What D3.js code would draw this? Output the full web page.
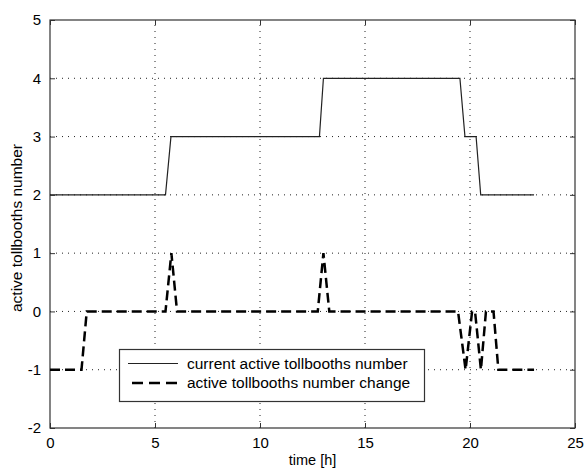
<!DOCTYPE html>
<html>
<head>
    <meta charset="utf-8">
    <title>Active tollbooths</title>
    <script src="https://d3js.org/d3.v7.min.js"></script>
    <style>
        body { margin: 0; background: #fff; }
        svg text { font-family: "Liberation Sans", Arial, sans-serif; fill: #000; }
    </style>
</head>
<body>
    <svg id="chart"></svg>

    <script>
        // current active tollbooths number: [time h, count]
        const currentTime  = [0, 5.5, 5.76, 12.83, 13.02, 19.52, 19.76, 20.29, 20.51, 23.05];
        const currentValue = [2, 2,   3,    3,     4,     4,     3,     3,     2,     2];

        // active tollbooths number change
        const changeTime  = [0, 1.5, 1.75, 5.5, 5.78, 6.05, 12.75, 13.02, 13.3, 19.43, 19.79, 20.1, 20.24, 20.52, 20.76, 21.12, 21.35, 23.05];
        const changeValue = [-1, -1, 0,    0,   1,    0,    0,     1,     0,    0,     -1,    0,    0,     -1,    0,     0,     -1,    -1];

        const xTicks = [0, 5, 10, 15, 20, 25];
        const yTicks = [-2, -1, 0, 1, 2, 3, 4, 5];

        const width = 585, height = 468;
        const margin = { top: 20, right: 10, bottom: 40, left: 50 };

        const svg = d3.select("#chart").attr("width", width).attr("height", height);

        const x = d3.scaleLinear().domain([0, 25]).range([margin.left, width - margin.right]);
        const y = d3.scaleLinear().domain([-2, 5]).range([height - margin.bottom, margin.top]);

        const fmt = d => String(d); // plain hyphen minus, like matlab

        // grid
        const grid = svg.append("g")
            .attr("stroke", "#222")
            .attr("stroke-width", 1)
            .attr("stroke-dasharray", "1,5");
        grid.selectAll(".gx").data(xTicks.slice(1, -1)).join("line")
            .attr("x1", d => x(d)).attr("x2", d => x(d))
            .attr("y1", y(-2)).attr("y2", y(5));
        grid.selectAll(".gy").data(yTicks.slice(1, -1)).join("line")
            .attr("x1", x(0)).attr("x2", x(25))
            .attr("y1", d => y(d)).attr("y2", d => y(d));

        // axes (ticks inside, like matlab)
        const tickLen = 5;
        svg.append("g")
            .attr("transform", `translate(0,${y(-2)})`)
            .call(d3.axisBottom(x).tickValues(xTicks).tickSize(-tickLen).tickPadding(9).tickFormat(fmt))
            .call(g => g.select(".domain").remove());
        svg.append("g")
            .attr("transform", `translate(0,${y(5)})`)
            .call(d3.axisTop(x).tickValues(xTicks).tickSize(-tickLen).tickFormat(""))
            .call(g => g.select(".domain").remove());
        svg.append("g")
            .attr("transform", `translate(${x(0)},0)`)
            .call(d3.axisLeft(y).tickValues(yTicks).tickSize(-tickLen).tickPadding(9).tickFormat(fmt))
            .call(g => g.select(".domain").remove());
        svg.append("g")
            .attr("transform", `translate(${x(25)},0)`)
            .call(d3.axisRight(y).tickValues(yTicks).tickSize(-tickLen).tickFormat(""))
            .call(g => g.select(".domain").remove());

        svg.selectAll(".tick line").attr("stroke", "#333");
        svg.selectAll(".tick text").attr("font-size", 15).attr("font-family", null);

        svg.append("rect")
            .attr("x", x(0)).attr("y", y(5))
            .attr("width", x(25) - x(0)).attr("height", y(-2) - y(5))
            .attr("fill", "none").attr("stroke", "#333").attr("stroke-width", 1.2);

        // lines
        const line = d3.line().x(d => x(d[0])).y(d => y(d[1]));
        const current = currentTime.map((t, i) => [t, currentValue[i]]);
        const change = changeTime.map((t, i) => [t, changeValue[i]]);

        svg.append("path").datum(current)
            .attr("d", line)
            .attr("fill", "none")
            .attr("stroke", "#222")
            .attr("stroke-width", 1.2);

        svg.append("path").datum(change)
            .attr("d", line)
            .attr("fill", "none")
            .attr("stroke", "#000")
            .attr("stroke-width", 2.5)
            .attr("stroke-dasharray", "10,5");

        // legend
        const lg = svg.append("g");
        lg.append("rect")
            .attr("x", 119.5).attr("y", 349.5).attr("width", 305).attr("height", 52)
            .attr("fill", "#fff").attr("stroke", "#333").attr("stroke-width", 1.2);
        lg.append("line")
            .attr("x1", 128).attr("x2", 178).attr("y1", 363.5).attr("y2", 363.5)
            .attr("stroke", "#222").attr("stroke-width", 1.2);
        lg.append("line")
            .attr("x1", 132).attr("x2", 178).attr("y1", 383).attr("y2", 383)
            .attr("stroke", "#000").attr("stroke-width", 2.5).attr("stroke-dasharray", "11,6");
        lg.append("text").attr("x", 187).attr("y", 368.5).attr("font-size", 15.5)
            .text("current active tollbooths number");
        lg.append("text").attr("x", 187).attr("y", 388).attr("font-size", 15.5)
            .text("active tollbooths number change");

        // axis labels
        svg.append("text")
            .attr("x", x(12.5)).attr("y", 465)
            .attr("text-anchor", "middle").attr("font-size", 14.5)
            .text("time [h]");
        svg.append("text")
            .attr("transform", `translate(22,${(y(5) + y(-2)) / 2 + 4}) rotate(-90)`)
            .attr("text-anchor", "middle").attr("font-size", 15.5)
            .text("active tollbooths number");
    </script>
</body>
</html>
